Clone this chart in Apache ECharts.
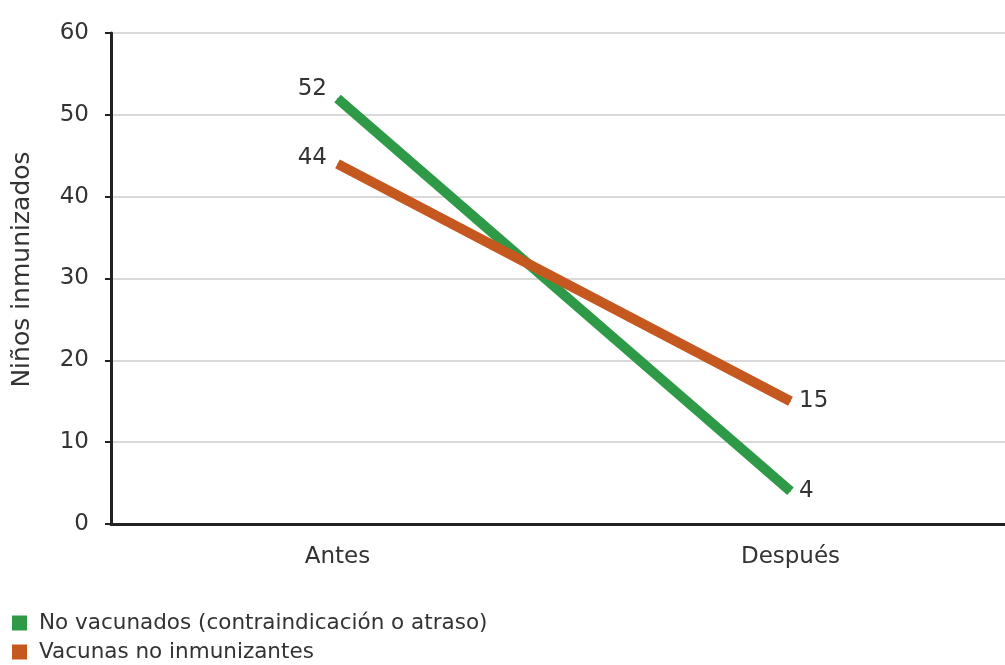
<!DOCTYPE html>
<html>
<head>
<meta charset="utf-8">
<script src="https://cdn.jsdelivr.net/npm/echarts@6/dist/echarts.min.js"></script>
<style>
  html, body { margin: 0; padding: 0; background: #fff; }
  #chart { width: 1005px; height: 665px; }
</style>
</head>
<body>
<div id="chart"></div>
<script>
const categories = ['Antes', 'Después']
const noVacunados = [52, 4]
const noInmunizantes = [44, 15]
const seriesNames = ['No vacunados (contraindicación o atraso)', 'Vacunas no inmunizantes']
const yTicks = { min: 0, max: 60, interval: 10 }

const font = 'DejaVu Sans, Verdana, sans-serif'

function withLabels (values, leftOffset) {
  return values.map((v, i) => ({
    value: v,
    label: i === 0
      ? { position: 'left', distance: 10, offset: [0, leftOffset] }
      : { position: 'right', distance: 8, offset: [0, 0] }
  }))
}

const chart = echarts.init(document.getElementById('chart'))
chart.setOption({
  animation: false,
  textStyle: { fontFamily: font },
  grid: {
    left: 111,
    right: -12,
    top: 33,
    bottom: 141,
    outerBoundsMode: 'none'
  },
  legend: {
    orient: 'vertical',
    left: 12,
    top: 612,
    padding: 0,
    icon: 'rect',
    itemWidth: 15,
    itemHeight: 15,
    itemGap: 7,
    textStyle: { fontSize: 21.5, color: '#333', fontFamily: font, padding: [0, 0, 0, 7] },
    data: seriesNames
  },
  xAxis: {
    type: 'category',
    data: categories,
    boundaryGap: true,
    axisTick: { show: false },
    axisLine: { lineStyle: { color: '#222', width: 3 } },
    axisLabel: { fontSize: 23, color: '#333', margin: 22 }
  },
  yAxis: {
    type: 'value',
    min: yTicks.min,
    max: yTicks.max,
    interval: yTicks.interval,
    name: 'Niños inmunizados',
    nameLocation: 'middle',
    nameGap: 76,
    nameTextStyle: { fontSize: 25, color: '#333', padding: [0, 0, 0, 18] },
    axisLine: { show: true, lineStyle: { color: '#222', width: 3 } },
    axisTick: { show: true, length: 6, lineStyle: { color: '#222', width: 2 } },
    axisLabel: { fontSize: 23, color: '#333', margin: 22 },
    splitLine: { lineStyle: { color: '#d9d9d9', width: 2 } }
  },
  series: [{
    name: seriesNames[0],
    type: 'line',
    symbol: 'circle',
    symbolSize: 1,
    color: '#2e9a47',
    lineStyle: { width: 10, color: '#2e9a47' },
    label: { show: true, fontSize: 23, color: '#333' },
    data: withLabels(noVacunados, -9)
  }, {
    name: seriesNames[1],
    type: 'line',
    symbol: 'circle',
    symbolSize: 1,
    color: '#c4581f',
    lineStyle: { width: 10, color: '#c4581f' },
    label: { show: true, fontSize: 23, color: '#333' },
    data: withLabels(noInmunizantes, -6)
  }]
})
</script>
</body>
</html>
